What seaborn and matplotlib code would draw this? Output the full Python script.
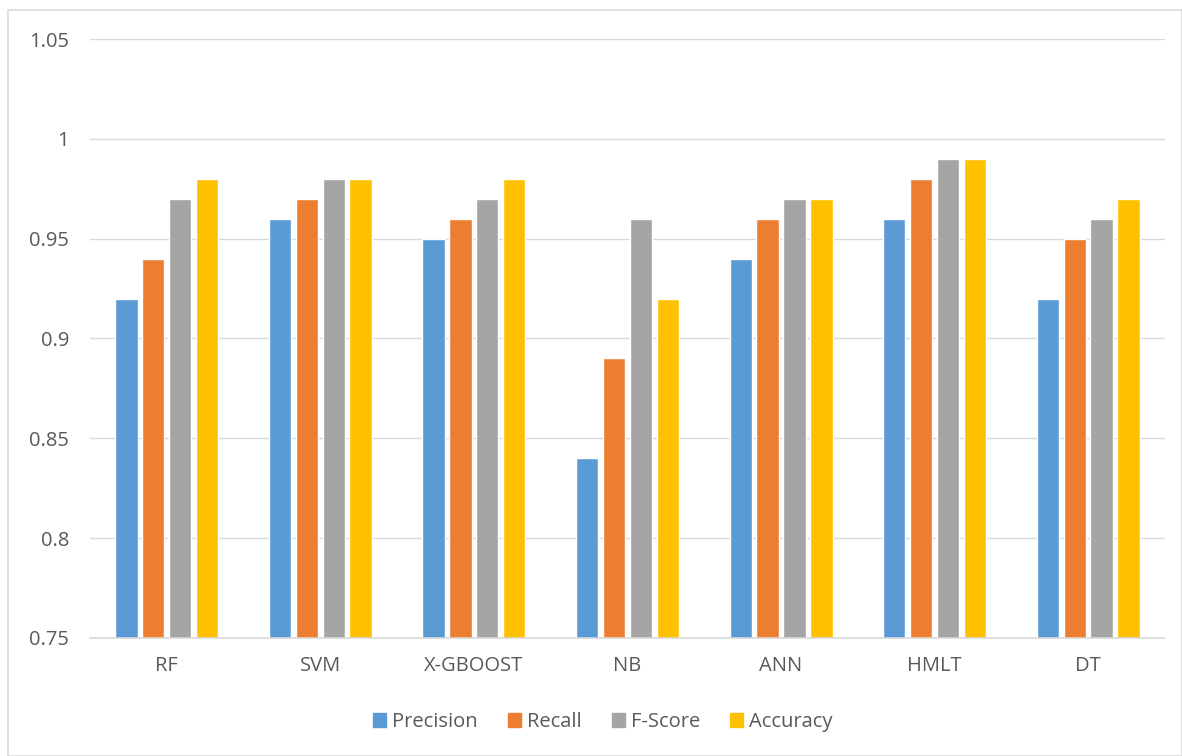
import matplotlib
matplotlib.use("Agg")
import matplotlib.pyplot as plt
import seaborn as sns
import pandas as pd
from matplotlib.patches import Rectangle

models = ["RF", "SVM", "X-GBOOST", "NB", "ANN", "HMLT", "DT"]
precision = [0.92, 0.96, 0.95, 0.84, 0.94, 0.96, 0.92]
recall = [0.94, 0.97, 0.96, 0.89, 0.96, 0.98, 0.95]
f_score = [0.97, 0.98, 0.97, 0.96, 0.97, 0.99, 0.96]
accuracy = [0.98, 0.98, 0.98, 0.92, 0.97, 0.99, 0.97]
metrics = ["Precision", "Recall", "F-Score", "Accuracy"]
colors = ["#5B9BD5", "#ED7D31", "#A5A5A5", "#FFC000"]
yticks = [0.75, 0.8, 0.85, 0.9, 0.95, 1.0, 1.05]
ytick_labels = ["0.75", "0.8", "0.85", "0.9", "0.95", "1", "1.05"]

df = pd.DataFrame({
    "Model": models * 4,
    "Metric": sum([[m] * len(models) for m in metrics], []),
    "Value": precision + recall + f_score + accuracy,
})

sns.set_theme(style="white")
plt.rcParams["font.family"] = ["Open Sans", "DejaVu Sans"]
text_color = "#595959"

fig = plt.figure(figsize=(11.82, 7.56), dpi=100)
ax = fig.add_axes([0.0761, 0.1561, 0.9095, 0.7923])

sns.barplot(data=df, x="Model", y="Value", hue="Metric", order=models,
            hue_order=metrics, palette=colors, width=0.7, gap=0.17,
            saturation=1, ax=ax, legend=False)

ax.set_ylim(0.75, 1.05)
ax.set_xlim(-0.5, len(models) - 0.5)
ax.set_yticks(yticks)
ax.set_yticklabels(ytick_labels)
ax.yaxis.grid(True, color="#D9D9D9", linewidth=1)
ax.set_axisbelow(True)
for side in ["top", "right", "left"]:
    ax.spines[side].set_visible(False)
ax.spines["bottom"].set_color("#D9D9D9")
ax.spines["bottom"].set_linewidth(1.2)
ax.tick_params(axis="both", length=0, labelsize=14.5, colors=text_color)
ax.tick_params(axis="y", pad=15)
ax.tick_params(axis="x", pad=13)
ax.set_xlabel("")
ax.set_ylabel("")

handles = [Rectangle((0, 0), 1, 1, color=c) for c in colors]
fig.legend(handles, metrics, loc="center", bbox_to_anchor=(0.51, 0.045),
           ncol=4, frameon=False, fontsize=14.5, labelcolor=text_color,
           handlelength=0.65, handleheight=0.65, handletextpad=0.3,
           columnspacing=1.5)

fig.patches.append(Rectangle((8 / 1182, 0.0), 1 - 8 / 1182, 1 - 10 / 756,
                             transform=fig.transFigure, fill=False,
                             edgecolor="#D9D9D9", linewidth=1.2))

fig.savefig("out.png", dpi=100, facecolor="white")
